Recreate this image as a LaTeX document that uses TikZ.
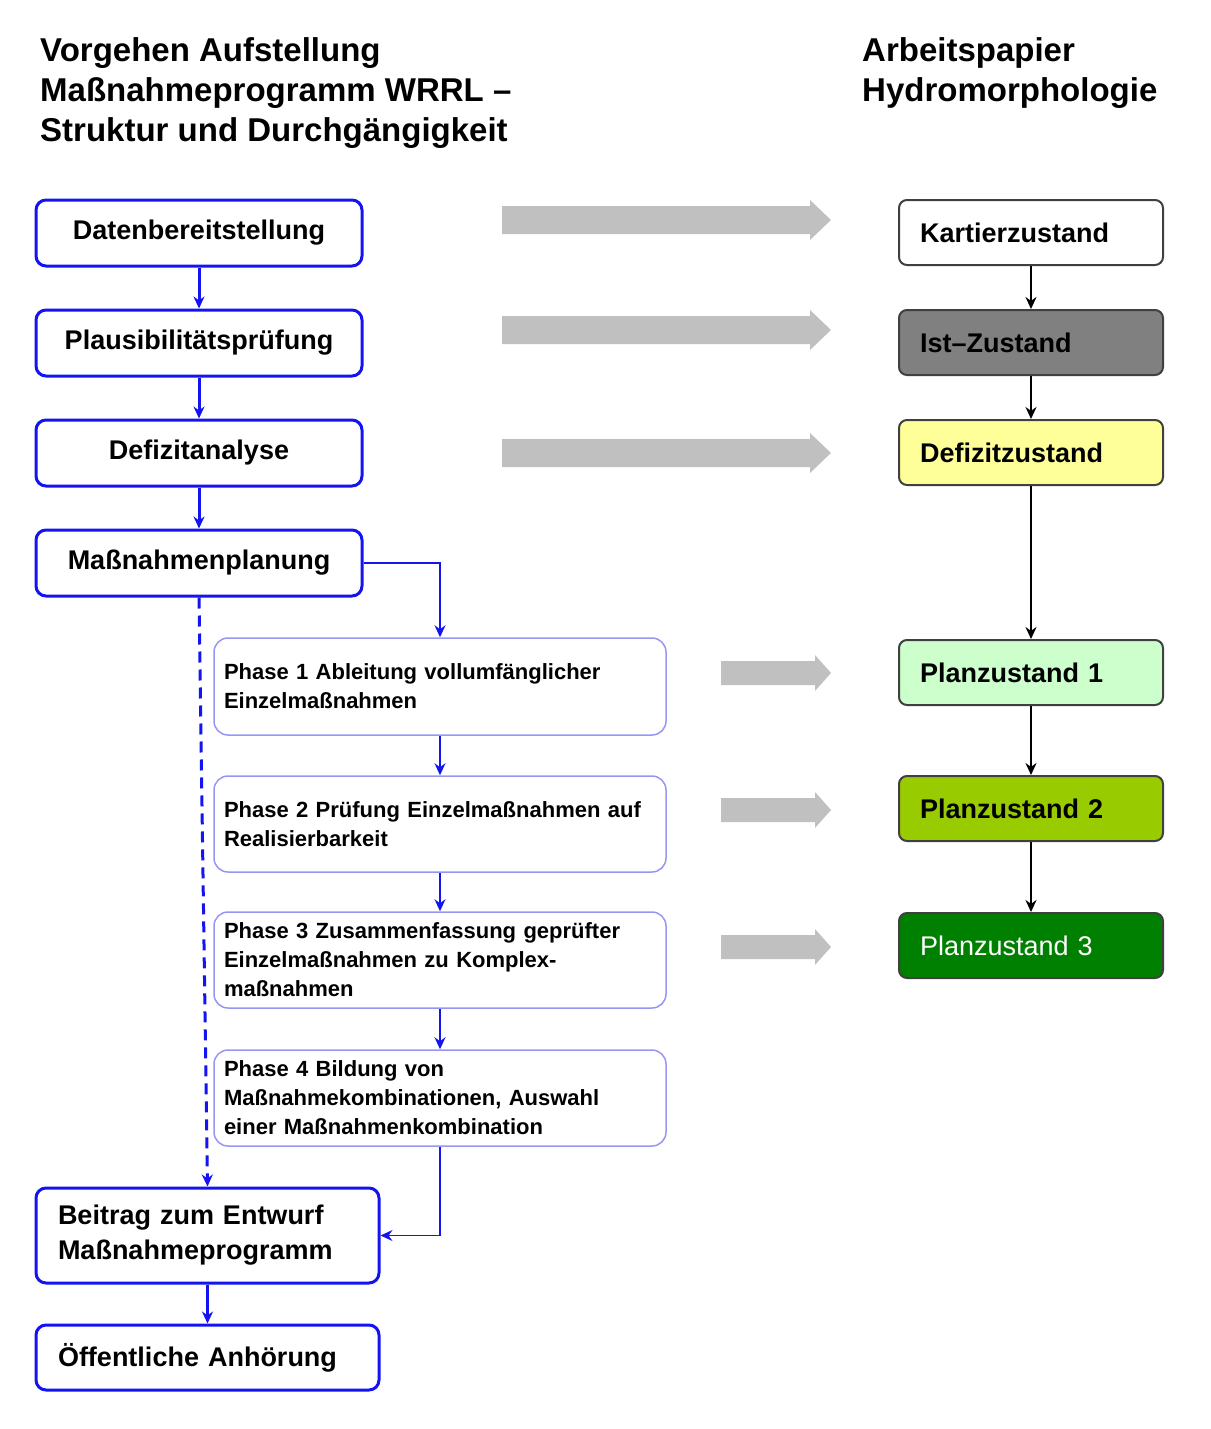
\documentclass[tikz,border=0pt]{standalone}
\usepackage{fontspec}
\setmainfont{Liberation Sans}
\usepackage{tikz}
\usetikzlibrary{arrows.meta}
\tikzset{>={Stealth[length=12pt,width=11pt]}}

\definecolor{boxblue}{RGB}{20,20,240}
\definecolor{phaseblue}{RGB}{150,150,245}
\definecolor{arrowgray}{RGB}{192,192,192}
\definecolor{istgray}{RGB}{128,128,128}
\definecolor{defyellow}{RGB}{255,255,153}
\definecolor{planone}{RGB}{204,255,204}
\definecolor{plantwo}{RGB}{153,204,0}
\definecolor{planthree}{RGB}{0,128,0}

\tikzset{
  titletext/.style={anchor=north west, inner sep=0pt, align=left, font=\fontsize{33}{40}\selectfont\bfseries},
  stepbox/.style={draw=boxblue, line width=3pt, rounded corners=10pt, minimum width=326pt, minimum height=66pt, font=\fontsize{27}{32}\selectfont\bfseries},
  endbox/.style={draw=boxblue, line width=3pt, rounded corners=10pt, text width=299pt, inner xsep=22pt, align=left, font=\fontsize{27}{35}\selectfont\bfseries},
  phasebox/.style={draw=phaseblue, line width=1.5pt, rounded corners=14pt, text width=432pt, inner xsep=10pt, minimum height=96pt, align=left, font=\fontsize{22}{29}\selectfont\bfseries},
  statebox/.style={draw=black!75, line width=2pt, rounded corners=8pt, text width=222pt, inner xsep=21pt, minimum height=65pt, align=left, font=\fontsize{27}{32}\selectfont\bfseries},
  bluearrow/.style={->, boxblue, line width=3pt},
  thinarrow/.style={->, boxblue, line width=1.3pt},
  blackarrow/.style={->, black, line width=2pt}
}

\begin{document}
\begin{tikzpicture}[x=1pt, y=-1pt]
\useasboundingbox (0,0) rectangle (1210,1429);

% headings
\node[titletext] (titleL) at (40,37) {Vorgehen Aufstellung\\Maßnahmeprogramm WRRL –\\Struktur und Durchgängigkeit};
\node[titletext] (titleR) at (862,37) {Arbeitspapier\\Hydromorphologie};

% left column
\node[stepbox] (daten) at (199,233) {Datenbereitstellung};
\node[stepbox] (plaus) at (199,343) {Plausibilitätsprüfung};
\node[stepbox] (defana) at (199,453) {Defizitanalyse};
\node[stepbox] (massn) at (199,563) {Maßnahmenplanung};

\node[phasebox, minimum height=97pt] (p1) at (440,686.5) {Phase 1 Ableitung vollumfänglicher\\Einzelmaßnahmen};
\node[phasebox] (p2) at (440,824) {Phase 2 Prüfung Einzelmaßnahmen auf\\Realisierbarkeit};
\node[phasebox] (p3) at (440,960) {Phase 3 Zusammenfassung geprüfter\\Einzelmaßnahmen zu Komplex-\\maßnahmen};
\node[phasebox] (p4) at (440,1098) {Phase 4 Bildung von\\Maßnahmekombinationen, Auswahl\\einer Maßnahmenkombination};

\node[endbox, minimum height=95pt] (beitrag) at (207.5,1235.5) {Beitrag zum Entwurf\\Maßnahmeprogramm};
\node[endbox, minimum height=65pt] (oeff) at (207.5,1357.5) {Öffentliche Anhörung};

\draw[bluearrow] (daten) -- (plaus);
\draw[bluearrow] (plaus) -- (defana);
\draw[bluearrow] (defana) -- (massn);
\draw[bluearrow, dash pattern=on 11pt off 7pt] (massn.south) -- (beitrag.north);
\draw[bluearrow] (beitrag) -- (oeff);

\draw[thinarrow] (massn.east) -| (p1.north);
\draw[thinarrow] (p1) -- (p2);
\draw[thinarrow] (p2) -- (p3);
\draw[thinarrow] (p3) -- (p4);
\draw[thinarrow] (p4.south) |- (beitrag.east);

% right column
\node[statebox, fill=white] (kart) at (1031,232.5) {Kartierzustand};
\node[statebox, fill=istgray] (ist) at (1031,342.5) {Ist–Zustand};
\node[statebox, fill=defyellow] (defz) at (1031,452.5) {Defizitzustand};
\node[statebox, fill=planone] (plan1) at (1031,672.5) {Planzustand 1};
\node[statebox, fill=plantwo] (plan2) at (1031,808.5) {Planzustand 2};
\node[statebox, fill=planthree, text=white, font=\fontsize{27}{32}\selectfont\mdseries] (plan3) at (1031,945.5) {Planzustand 3};

\draw[blackarrow] (kart) -- (ist);
\draw[blackarrow] (ist) -- (defz);
\draw[blackarrow] (defz) -- (plan1);
\draw[blackarrow] (plan1) -- (plan2);
\draw[blackarrow] (plan2) -- (plan3);

% gray block arrows
\foreach \yy in {220,330,453}
  \fill[arrowgray] (502,\yy-14) -- (810,\yy-14) -- (810,\yy-20) -- (831,\yy) -- (810,\yy+20) -- (810,\yy+14) -- (502,\yy+14) -- cycle;
\foreach \yy in {673,810,947}
  \fill[arrowgray] (721,\yy-12) -- (815,\yy-12) -- (815,\yy-18) -- (831,\yy) -- (815,\yy+18) -- (815,\yy+12) -- (721,\yy+12) -- cycle;

\end{tikzpicture}
\end{document}
